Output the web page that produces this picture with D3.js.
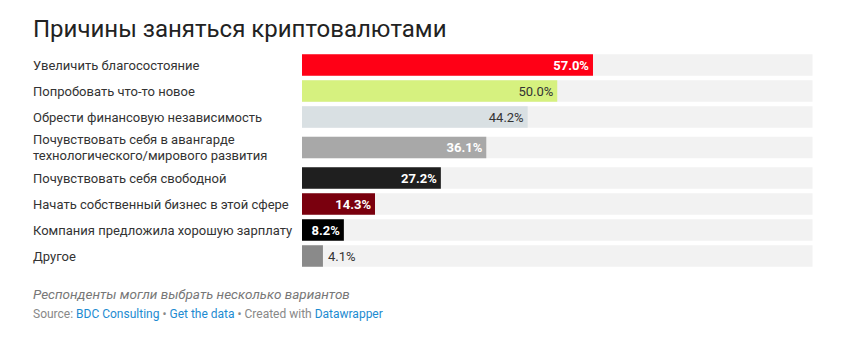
<!DOCTYPE html>
<html>
<head>
<meta charset="utf-8">
<script src="https://cdn.jsdelivr.net/npm/d3@7"></script>
<style>
  body { margin: 0; background: #fff; font-family: Roboto, sans-serif; }
  #chart svg { display: block; }
</style>
</head>
<body>
<div id="chart"></div>
<script>
const categories = [
    ["Увеличить благосостояние"],
    ["Попробовать что-то новое"],
    ["Обрести финансовую независимость"],
    ["Почувствовать себя в авангарде", "технологического/мирового развития"],
    ["Почувствовать себя свободной"],
    ["Начать собственный бизнес в этой сфере"],
    ["Компания предложила хорошую зарплату"],
    ["Другое"]
];
const values = [57.0, 50.0, 44.2, 36.1, 27.2, 14.3, 8.2, 4.1];
const barColors = ["#ff0016", "#d6f17f", "#d9e0e3", "#a8a8a8", "#1f1f1f", "#7a000e", "#000000", "#8a8a8a"];
const labelColors = ["#fff", "#333", "#333", "#fff", "#fff", "#fff", "#fff", "#333"];

const W = 850, H = 351;
const svg = d3.select("#chart").append("svg")
    .attr("width", W)
    .attr("height", H);

// title
svg.append("text")
    .attr("x", 33).attr("y", 37)
    .attr("font-size", 24)
    .attr("fill", "#222")
    .text("Причины заняться криптовалютами");

// x scale over 0..100 %
const x = d3.scaleLinear().domain([0, 100]).range([302, 812.5]);

// rows: single line rows take 1 unit, two-line rows take more
const rowUnits = categories.map(c => c.length > 1 ? 35 / 26 : 1);
const starts = [];
rowUnits.reduce((acc, u, i) => { starts.push(acc); return acc + u; }, 0);
const totalUnits = d3.sum(rowUnits);
const y = d3.scaleLinear().domain([0, totalUnits]).range([52, 52 + totalUnits * 26]);
const barH = 21.5;

const rows = svg.append("g").selectAll("g")
    .data(values.map((v, i) => ({ v, i, label: categories[i] })))
    .join("g")
    .attr("transform", d => `translate(0,${y(starts[d.i] + rowUnits[d.i] / 2)})`);

// background track
rows.append("rect")
    .attr("x", x(0))
    .attr("y", -barH / 2)
    .attr("width", x(100) - x(0))
    .attr("height", barH)
    .attr("fill", "#f2f2f2");

rows.append("rect")
    .attr("x", x(0))
    .attr("y", -barH / 2)
    .attr("width", d => x(d.v) - x(0))
    .attr("height", barH)
    .attr("fill", d => barColors[d.i]);

// category labels
rows.append("text")
    .attr("x", 33)
    .attr("font-size", 13)
    .attr("fill", "#333")
    .each(function (d) {
        const n = d.label.length;
        d3.select(this).selectAll("tspan")
            .data(d.label)
            .join("tspan")
            .attr("x", 33)
            .attr("y", (t, k) => (k - (n - 1) / 2) * 15.5)
            .attr("dy", "0.35em")
            .text(t => t);
    });

// value labels
rows.append("text")
    .attr("x", d => (x(d.v) - x(0) > 40) ? x(d.v) - 4 : (d.i === 6 ? x(0) + 4 : x(d.v) + 5))
    .attr("dy", "0.36em")
    .attr("text-anchor", d => (x(d.v) - x(0) > 40) ? "end" : "start")
    .attr("font-size", 13)
    .attr("font-weight", d => labelColors[d.i] === "#fff" ? 700 : 400)
    .attr("fill", d => labelColors[d.i])
    .text(d => d.v.toFixed(1) + "%");

// notes
svg.append("text")
    .attr("x", 33).attr("y", 299)
    .attr("font-size", 13.5)
    .attr("font-style", "italic")
    .attr("fill", "#777")
    .text("Респонденты могли выбрать несколько вариантов");

const src = svg.append("text")
    .attr("x", 33).attr("y", 318)
    .attr("font-size", 12)
    .attr("fill", "#888");
src.append("tspan").text("Source: ");
src.append("tspan").attr("fill", "#1d8bd1").text("BDC Consulting");
src.append("tspan").text(" • ");
src.append("tspan").attr("fill", "#1d8bd1").text("Get the data");
src.append("tspan").text(" • Created with ");
src.append("tspan").attr("fill", "#1d8bd1").text("Datawrapper");
</script>
</body>
</html>
